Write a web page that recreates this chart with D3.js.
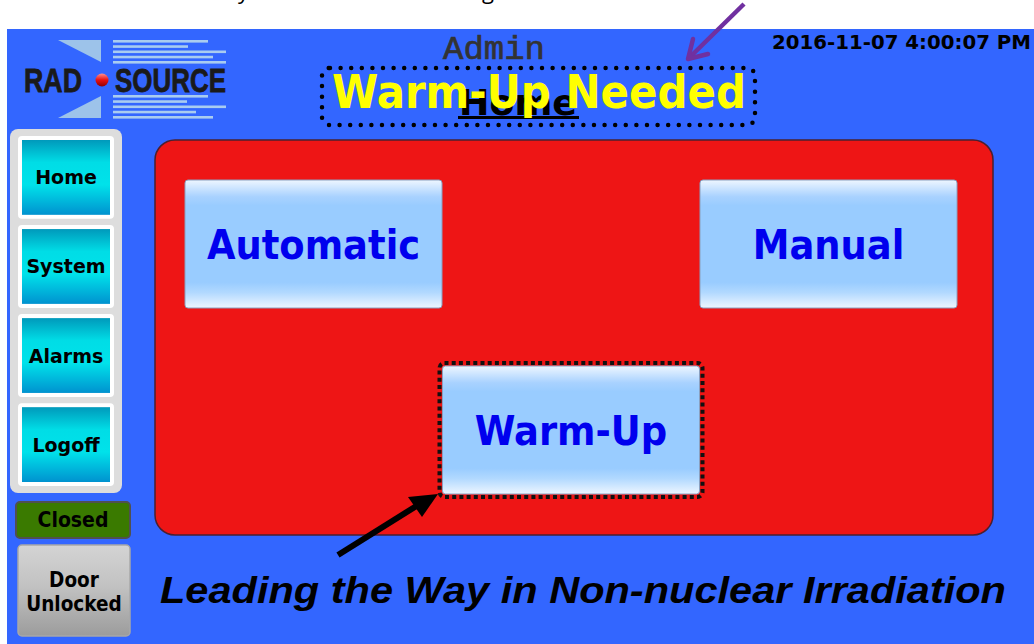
<!DOCTYPE html>
<html>
<head>
<meta charset="utf-8">
<script src="https://cdn.jsdelivr.net/npm/d3@7"></script>
<style>
  html, body { margin: 0; padding: 0; background: #ffffff; }
  svg { display: block; }
</style>
</head>
<body>
<script>
// ---- content ----
const navLabels = ["Home", "System", "Alarms", "Logoff"];
const mainButtons = ["Automatic", "Manual", "Warm-Up"];
const mainCols = [0, 2, 1];     // column slot of each main button
const mainRows = [0, 0, 1];     // row slot of each main button
const doorStatus = "Closed";
const doorButton = ["Door", "Unlocked"];
const userName = "Admin";
const pageName = "Home";
const warning = "Warm-Up Needed";
const timestamp = "2016-11-07 4:00:07 PM";
const slogan = "Leading the Way in Non-nuclear Irradiation";
const logoWords = ["RAD", "SOURCE"];
const logoTopBars = [95, 75, 113, 100, 113];
const logoBotBars = [95, 74, 113, 83, 100];

const W = 1034, H = 644;
const fontUI = "'DejaVu Sans Condensed', 'DejaVu Sans', sans-serif";
const fontWide = "'DejaVu Sans', sans-serif";

const svg = d3.select("body").append("svg")
    .attr("width", W)
    .attr("height", H);

const defs = svg.append("defs");

function vGrad(id, stops) {
  const g = defs.append("linearGradient").attr("id", id)
      .attr("x1", 0).attr("y1", 0).attr("x2", 0).attr("y2", 1);
  stops.forEach(s => g.append("stop").attr("offset", s[0]).attr("stop-color", s[1]));
}
vGrad("cyanGrad", [[0, "#0099bb"], [0.3, "#00dde6"], [0.6, "#00e2ea"], [1, "#0092cf"]]);
vGrad("blueBtn", [[0, "#eef6ff"], [0.13, "#a9d2ff"], [0.2, "#99ccff"], [0.8, "#99ccff"], [0.88, "#b2d9ff"], [1, "#eef6ff"]]);
vGrad("grayBtn", [[0, "#d4d4d4"], [0.45, "#c2c2c2"], [1, "#9c9c9c"]]);
vGrad("redDot", [[0, "#ff9090"], [0.5, "#e81010"], [1, "#900000"]]);

// cut-off caption descenders at very top
svg.append("text").attr("x", 238).attr("y", -1)
    .style("font-family", "'Open Sans', sans-serif").style("font-size", "22px")
    .attr("fill", "#000").text("y");
svg.append("text").attr("x", 482).attr("y", -1)
    .style("font-family", "'Open Sans', sans-serif").style("font-size", "22px")
    .attr("fill", "#000").text("g");

// ---- blue screen ----
svg.append("rect")
    .attr("x", 7).attr("y", 29)
    .attr("width", W - 7).attr("height", H - 29)
    .attr("fill", "#3366ff");

// ---- logo ----
const logo = svg.append("g");
logo.append("polygon").attr("points", "58,40 101,40 101,62").attr("fill", "#9dc3ea");
logo.append("polygon").attr("points", "58,118 101,96 101,118").attr("fill", "#9dc3ea");
const barY = d3.scaleLinear().domain([0, 4]).range([41, 62]);
logo.selectAll(".tb").data(logoTopBars).join("rect")
    .attr("x", 113).attr("y", (d, i) => barY(i) - 1)
    .attr("width", d => d).attr("height", 2.6).attr("fill", "#a9ccf0");
const barY2 = d3.scaleLinear().domain([0, 4]).range([96, 117]);
logo.selectAll(".bb").data(logoBotBars).join("rect")
    .attr("x", 113).attr("y", (d, i) => barY2(i) - 1)
    .attr("width", d => d).attr("height", 2.6).attr("fill", "#a9ccf0");
[[24, 58, logoWords[0]], [115, 111, logoWords[1]]].forEach(([x, w, t]) => {
  logo.append("text").attr("x", x).attr("y", 92)
      .attr("textLength", w).attr("lengthAdjust", "spacingAndGlyphs")
      .style("font-family", "'Liberation Sans', Arial, sans-serif")
      .style("font-weight", "bold").style("font-size", "34px")
      .attr("fill", "#1a1a1a").attr("stroke", "#1a1a1a").attr("stroke-width", 0.8)
      .text(t);
});
logo.append("circle").attr("cx", 102).attr("cy", 80).attr("r", 6.5).attr("fill", "url(#redDot)");

// ---- header texts ----
svg.append("text").attr("x", 494).attr("y", 59)
    .attr("text-anchor", "middle")
    .style("font-family", "'Liberation Mono', monospace")
    .style("font-size", "34px")
    .attr("fill", "#333333").attr("stroke", "#333333").attr("stroke-width", 0.7)
    .text(userName);

svg.append("text").attr("x", 518).attr("y", 115)
    .attr("text-anchor", "middle")
    .attr("textLength", 118).attr("lengthAdjust", "spacingAndGlyphs")
    .style("font-family", fontUI).style("font-weight", "bold")
    .style("font-size", "36px").attr("fill", "#000").text(pageName);
svg.append("rect").attr("x", 458).attr("y", 116).attr("width", 121).attr("height", 3).attr("fill", "#000");

svg.append("rect")
    .attr("x", 322).attr("y", 68).attr("width", 433).attr("height", 57).attr("rx", 8)
    .attr("fill", "none").attr("stroke", "#000").attr("stroke-width", 4.5)
    .attr("stroke-linecap", "round").attr("stroke-dasharray", "0 10.6");

svg.append("text").attr("x", 332).attr("y", 108)
    .attr("textLength", 414).attr("lengthAdjust", "spacingAndGlyphs")
    .style("font-family", fontUI).style("font-weight", "bold")
    .style("font-size", "47px").attr("fill", "#ffff00").text(warning);

svg.append("text").attr("x", 772).attr("y", 49)
    .attr("textLength", 259).attr("lengthAdjust", "spacingAndGlyphs")
    .style("font-family", fontUI).style("font-weight", "bold")
    .style("font-size", "20px").attr("fill", "#000").text(timestamp);

// ---- left navigation ----
svg.append("rect").attr("x", 10).attr("y", 129).attr("width", 112).attr("height", 364)
    .attr("rx", 8).attr("fill", "#dddddd");

const navY = d3.scaleBand().domain(navLabels).range([136, 486]).paddingInner(0.07).paddingOuter(0);
const nav = svg.selectAll(".nav").data(navLabels).join("g").attr("class", "nav");
nav.append("rect").attr("x", 18).attr("y", d => navY(d))
    .attr("width", 96).attr("height", navY.bandwidth()).attr("rx", 4).attr("fill", "#ffffff");
nav.append("rect").attr("x", 22).attr("y", d => navY(d) + 4)
    .attr("width", 88).attr("height", navY.bandwidth() - 8).attr("fill", "url(#cyanGrad)");
nav.append("text").attr("x", 66).attr("y", d => navY(d) + navY.bandwidth() / 2 + 7)
    .attr("text-anchor", "middle")
    .style("font-family", fontWide).style("font-weight", "bold").style("font-size", "19px")
    .attr("fill", "#000").text(d => d);

// door status
svg.append("rect").attr("x", 16).attr("y", 502).attr("width", 114).attr("height", 36).attr("rx", 4)
    .attr("fill", "#3a7a00").attr("stroke", "#505050").attr("stroke-width", 2);
svg.append("text").attr("x", 73).attr("y", 527).attr("text-anchor", "middle")
    .style("font-family", fontUI).style("font-weight", "bold").style("font-size", "21px")
    .attr("fill", "#000").text(doorStatus);

svg.append("rect").attr("x", 18).attr("y", 545).attr("width", 112).attr("height", 91).attr("rx", 4)
    .attr("fill", "url(#grayBtn)").attr("stroke", "#a8a8a8").attr("stroke-width", 1.5);
svg.append("text").attr("x", 74).attr("y", 587).attr("text-anchor", "middle")
    .style("font-family", fontUI).style("font-weight", "bold").style("font-size", "20.5px")
    .attr("fill", "#000")
    .selectAll("tspan").data(doorButton).join("tspan")
    .attr("x", 74).attr("dy", (d, i) => i === 0 ? 0 : 24).text(d => d);

// ---- main red panel ----
svg.append("rect").attr("x", 155).attr("y", 140).attr("width", 838).attr("height", 395).attr("rx", 20)
    .attr("fill", "#ee1515").attr("stroke", "#4a2030").attr("stroke-width", 1.5);

const colX = d3.scaleLinear().domain([0, 2]).range([185, 700]);
const rowY = d3.scaleLinear().domain([0, 1]).range([180, 366]);
const btnW = 257, btnH = 128;

const btns = svg.selectAll(".mbtn").data(mainButtons).join("g").attr("class", "mbtn");
btns.filter(d => d === "Warm-Up").append("rect")
    .attr("x", colX(mainCols[2]) - 3).attr("y", rowY(mainRows[2]) - 3)
    .attr("width", btnW + 6).attr("height", btnH + 6).attr("rx", 5)
    .attr("fill", "none").attr("stroke", "#111").attr("stroke-width", 4)
    .attr("stroke-dasharray", "4 3.2");
btns.append("rect")
    .attr("x", (d, i) => colX(mainCols[i])).attr("y", (d, i) => rowY(mainRows[i]))
    .attr("width", btnW).attr("height", btnH).attr("rx", 3)
    .attr("fill", "url(#blueBtn)").attr("stroke", "#8aa0c0").attr("stroke-width", 1);
btns.append("text")
    .attr("x", (d, i) => colX(mainCols[i]) + btnW / 2)
    .attr("y", (d, i) => rowY(mainRows[i]) + btnH / 2 + 15)
    .attr("text-anchor", "middle")
    .style("font-family", fontUI).style("font-weight", "bold").style("font-size", "41px")
    .attr("fill", "#0000ee").text(d => d);

// ---- slogan ----
svg.append("text").attr("x", 160).attr("y", 603)
    .attr("textLength", 846).attr("lengthAdjust", "spacingAndGlyphs")
    .style("font-family", "'Liberation Sans', Arial, sans-serif")
    .style("font-weight", "bold").style("font-style", "italic").style("font-size", "37px")
    .attr("fill", "#000").text(slogan);

// ---- annotation arrows ----
svg.append("line").attr("x1", 338).attr("y1", 555).attr("x2", 418).attr("y2", 505)
    .attr("stroke", "#000").attr("stroke-width", 6);
svg.append("polygon").attr("points", "438,494 408,497 422,517").attr("fill", "#000");

svg.append("line").attr("x1", 744).attr("y1", 4).attr("x2", 689).attr("y2", 58)
    .attr("stroke", "#7030a0").attr("stroke-width", 4.5);
svg.append("polyline").attr("points", "693,39 688,59 708,54")
    .attr("fill", "none").attr("stroke", "#7030a0").attr("stroke-width", 4.5)
    .attr("stroke-linejoin", "round").attr("stroke-linecap", "round");
</script>
</body>
</html>
